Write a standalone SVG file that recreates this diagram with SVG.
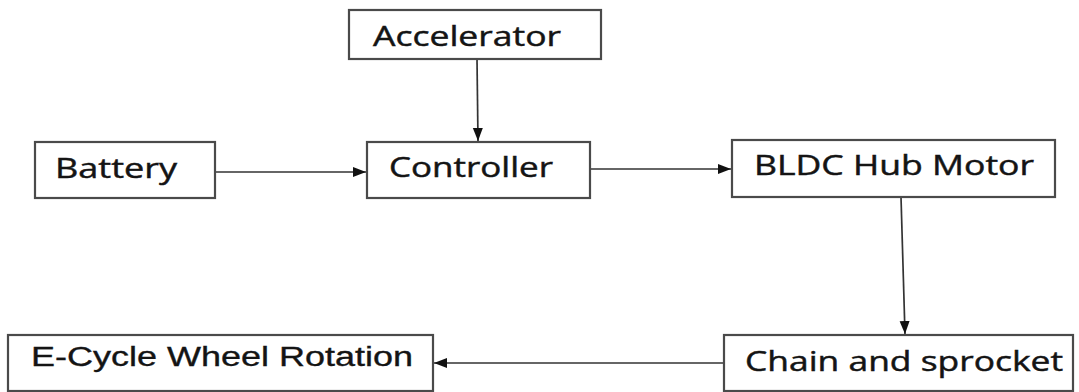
<svg xmlns="http://www.w3.org/2000/svg" width="1079" height="392" viewBox="0 0 1079 392">
<defs>
<marker id="ah" markerUnits="userSpaceOnUse" markerWidth="14" markerHeight="12" refX="13" refY="6" orient="auto">
<path d="M0,1 L13,6 L0,11 Z" fill="#111"/>
</marker>
<style>
.box{fill:#fff;stroke:#4a4a4a;stroke-width:2.2}
.lbl{font-family:"Open Sans","Noto Sans",sans-serif;font-size:27px;fill:#141414;stroke:#141414;stroke-width:0.45}
.lbl2{font-family:"Liberation Sans",Arial,sans-serif;font-size:27px;fill:#141414;stroke:#141414;stroke-width:0.35}
.con{fill:none;stroke:#333;stroke-width:1.7;marker-end:url(#ah)}
</style>
</defs>
<rect width="1079" height="392" fill="#fff"/>
<g id="connectors">
<path class="con" d="M477,59 L478,141"/>
<path class="con" d="M215,172 L366,172"/>
<path class="con" d="M590,169 L731,169"/>
<path class="con" d="M901,197 L905,334"/>
<path class="con" d="M724,363 L434,363"/>
</g>
<g id="accelerator">
<rect class="box" x="349" y="10" width="252" height="49"/>
<text class="lbl" x="373" y="46" textLength="188" lengthAdjust="spacingAndGlyphs">Accelerator</text>
</g>
<g id="battery">
<rect class="box" x="35" y="142" width="180" height="56"/>
<text class="lbl" x="55" y="178" textLength="122" lengthAdjust="spacingAndGlyphs">Battery</text>
</g>
<g id="controller">
<rect class="box" x="367" y="142" width="223" height="56"/>
<text class="lbl" x="389" y="177" textLength="164" lengthAdjust="spacingAndGlyphs">Controller</text>
</g>
<g id="bldc">
<rect class="box" x="732" y="140" width="323" height="57"/>
<text class="lbl" x="754" y="175" textLength="280" lengthAdjust="spacingAndGlyphs">BLDC Hub Motor</text>
</g>
<g id="chain">
<rect class="box" x="724" y="335" width="349" height="56"/>
<text class="lbl" x="745" y="371" textLength="318" lengthAdjust="spacingAndGlyphs">Chain and sprocket</text>
</g>
<g id="wheel">
<rect class="box" x="8" y="335" width="425" height="56"/>
<text class="lbl2" x="31" y="366" textLength="382" lengthAdjust="spacingAndGlyphs">E-Cycle Wheel Rotation</text>
</g>
</svg>
